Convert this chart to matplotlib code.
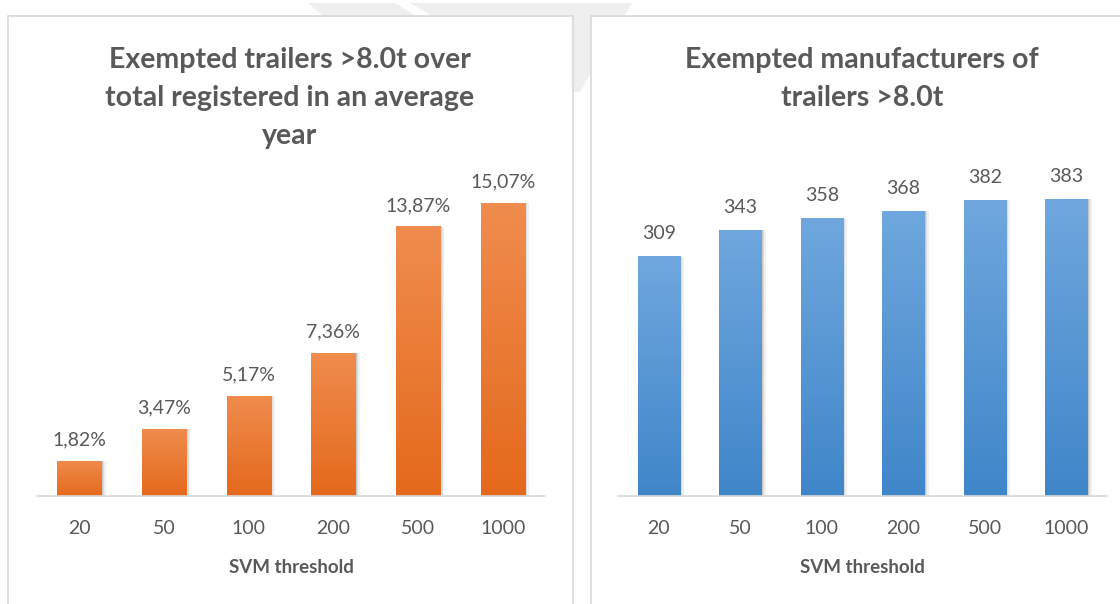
import numpy as np
import matplotlib
matplotlib.use("Agg")
import matplotlib.pyplot as plt
from matplotlib.patches import Rectangle, Polygon
from matplotlib.colors import LinearSegmentedColormap

# data
thresholds = ["20", "50", "100", "200", "500", "1000"]
share_pct = [1.82, 3.47, 5.17, 7.36, 13.87, 15.07]
manufacturers = [309, 343, 358, 368, 382, 383]

title_left = "Exempted trailers >8.0t over\ntotal registered in an average\nyear"
title_right = "Exempted manufacturers of\ntrailers >8.0t"
xlab = "SVM threshold"

W, H = 1120, 604
TXT = "#595959"
plt.rcParams['font.family'] = ['Lato', 'DejaVu Sans']

fig = plt.figure(figsize=(W / 100, H / 100), dpi=100)


def px(x0, y0, x1, y1):
    # pixel box (top-left origin) -> figure fraction rect
    return [x0 / W, 1 - y1 / H, (x1 - x0) / W, (y1 - y0) / H]


# faint watermark behind the panels
for pts in ([(308, 3), (395, 3), (425, 22), (330, 22)],
            [(410, 3), (632, 3), (580, 92), (560, 92)]):
    fig.patches.append(Polygon([(x / W, 1 - y / H) for x, y in pts], closed=True,
                               transform=fig.transFigure, facecolor="#efefef",
                               edgecolor="none", zorder=0))

# chart frames
for x0, x1 in ((8, 573), (591, 1135)):
    fig.patches.append(Rectangle((x0 / W, -0.05), (x1 - x0) / W, 1 - 16 / H + 0.05,
                                 transform=fig.transFigure, facecolor="white",
                                 edgecolor="#d9d9d9", linewidth=1.2, zorder=1))


def draw_bars(ax, vals, ymax, top_col, bot_col, fmt):
    cmap = LinearSegmentedColormap.from_list("g", [bot_col, top_col])
    x = np.arange(len(vals))
    w = 0.52
    for xi, v in zip(x, vals):
        # soft shadow on the right
        for k, a in ((0.05, 0.06), (0.03, 0.08), (0.015, 0.1)):
            ax.add_patch(Rectangle((xi - w / 2 + k, 0), w, v - k * ymax * 0.02,
                                   facecolor="black", alpha=a, edgecolor="none", zorder=1))
        bar = Rectangle((xi - w / 2, 0), w, v, facecolor="none", edgecolor="none", zorder=2)
        ax.add_patch(bar)
        grad = np.linspace(0, 1, 256).reshape(-1, 1)
        im = ax.imshow(grad, extent=(xi - w / 2, xi + w / 2, 0, v), origin="lower",
                       cmap=cmap, aspect="auto", zorder=2)
        im.set_clip_path(bar)
        ax.text(xi, v + ymax * 0.04, fmt(v), ha="center", va="bottom",
                fontsize=14, color=TXT)
    ax.set_xlim(-0.5, len(vals) - 0.5)
    ax.set_ylim(0, ymax)
    ax.set_xticks(x)
    ax.set_xticklabels(thresholds, fontsize=14, color=TXT)
    ax.tick_params(axis="x", length=0, pad=17)
    ax.set_yticks([])
    for s in ("left", "right", "top"):
        ax.spines[s].set_visible(False)
    ax.spines["bottom"].set_color("#d9d9d9")
    ax.spines["bottom"].set_linewidth(1.2)
    ax.set_xlabel(xlab, fontsize=13.5, fontweight="bold", color=TXT, labelpad=16)
    ax.patch.set_visible(False)


ax1 = fig.add_axes(px(37, 185, 545, 496))
ax1.set_zorder(2)
draw_bars(ax1, share_pct, 16, "#f08c4e", "#e4691c",
          lambda v: f"{v:.2f}".replace(".", ",") + "%")

ax2 = fig.add_axes(px(618, 147, 1107, 496))
ax2.set_zorder(2)
draw_bars(ax2, manufacturers, 450, "#70a7de", "#3f86c9", lambda v: f"{v}")

fig.text(290 / W, 1 - 47 / H, title_left, ha="center", va="top", fontsize=20.5,
         fontweight="bold", color=TXT, linespacing=1.58, zorder=3)
fig.text(862 / W, 1 - 47 / H, title_right, ha="center", va="top", fontsize=20.5,
         fontweight="bold", color=TXT, linespacing=1.58, zorder=3)

fig.savefig("out.png", dpi=100, facecolor="white")
